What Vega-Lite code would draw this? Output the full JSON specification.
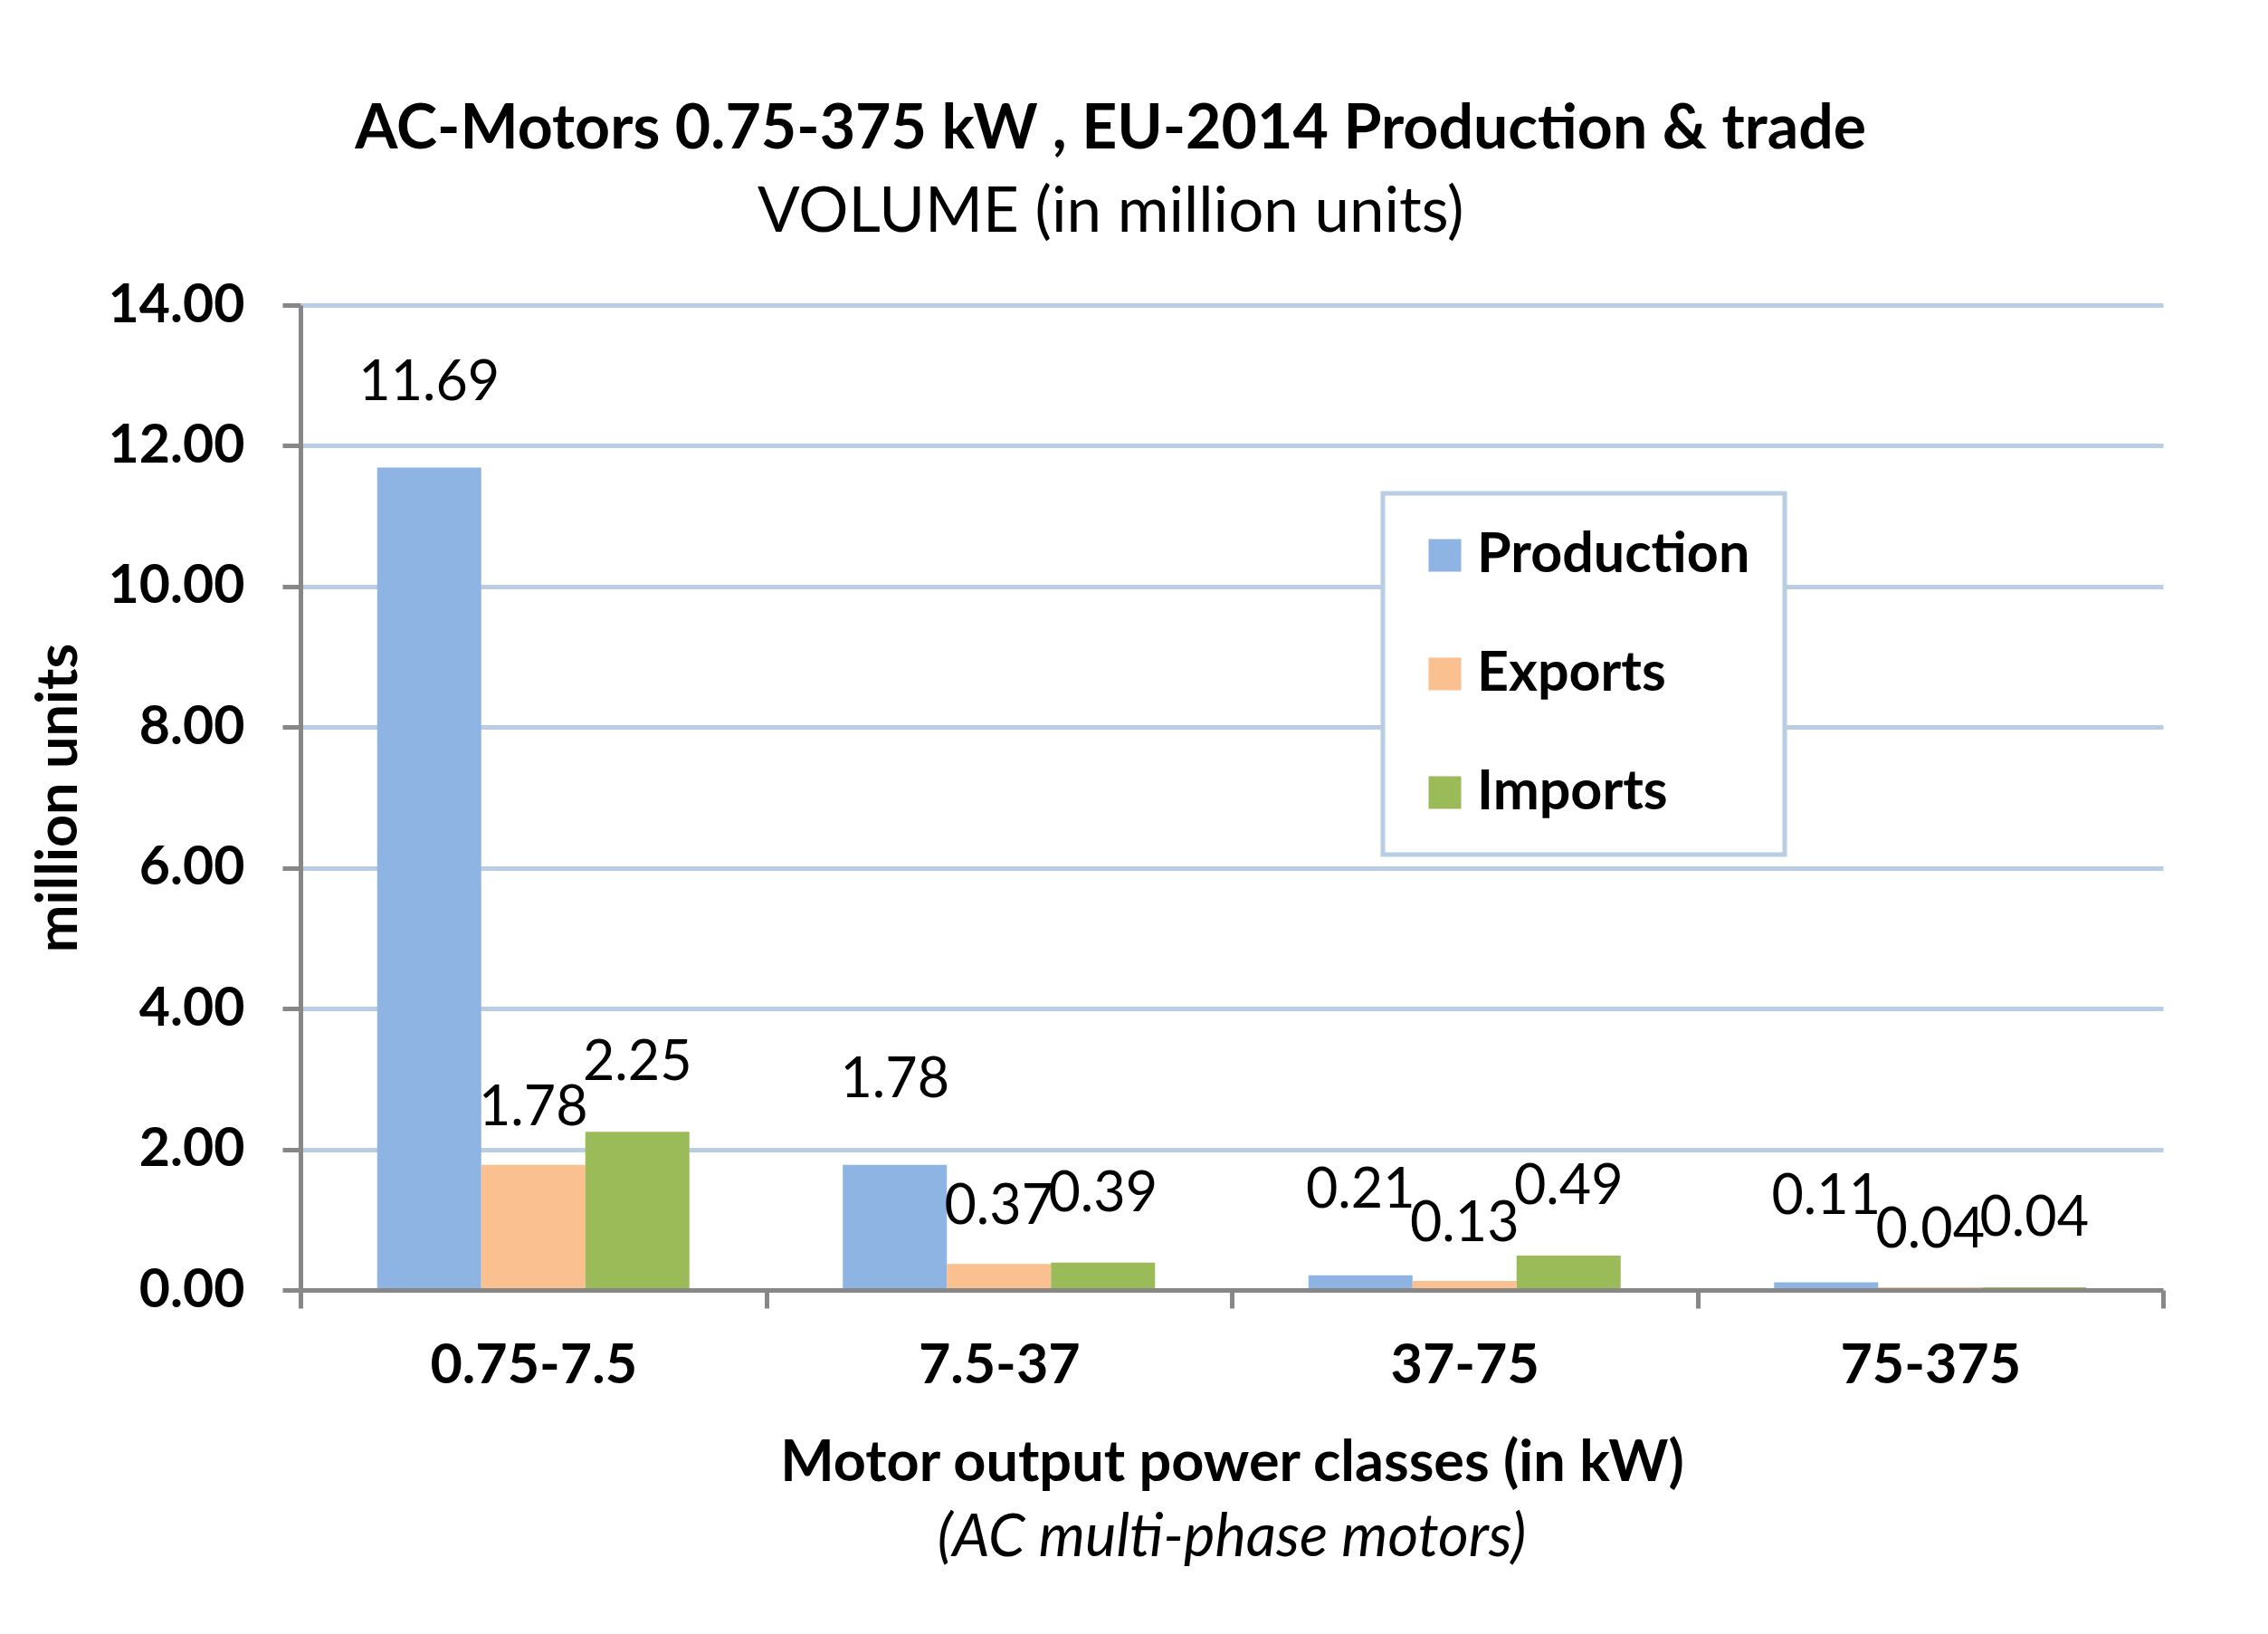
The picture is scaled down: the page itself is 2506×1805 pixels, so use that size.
{
  "$schema": "https://vega.github.io/schema/vega-lite/v6.json",
  "background": "white",
  "padding": {"left": 34, "top": 110, "right": 20, "bottom": 20},
  "title": {
    "text": "AC-Motors 0.75-375 kW , EU-2014 Production & trade",
    "subtitle": "VOLUME (in million units)",
    "anchor": "middle",
    "dx": 14,
    "font": "Lato",
    "fontSize": 68,
    "fontWeight": "bold",
    "color": "black",
    "subtitleFont": "Lato",
    "subtitleFontSize": 69,
    "subtitleFontWeight": "normal",
    "subtitleColor": "black",
    "subtitlePadding": 23,
    "offset": 38
  },
  "vconcat": [
    {
      "width": 2058,
      "height": 1088,
      "title": {
        "text": "(AC multi-phase motors)",
        "orient": "bottom",
        "anchor": "middle",
        "frame": "group",
        "font": "Lato",
        "fontStyle": "italic",
        "fontWeight": "normal",
        "fontSize": 65,
        "color": "black",
        "offset": 20
      },
      "data": {
        "values": [
          {"class": "0.75-7.5", "series": "Production", "value": 11.69},
          {"class": "0.75-7.5", "series": "Exports", "value": 1.78},
          {"class": "0.75-7.5", "series": "Imports", "value": 2.25},
          {"class": "7.5-37", "series": "Production", "value": 1.78},
          {"class": "7.5-37", "series": "Exports", "value": 0.37},
          {"class": "7.5-37", "series": "Imports", "value": 0.39},
          {"class": "37-75", "series": "Production", "value": 0.21},
          {"class": "37-75", "series": "Exports", "value": 0.13},
          {"class": "37-75", "series": "Imports", "value": 0.49},
          {"class": "75-375", "series": "Production", "value": 0.11},
          {"class": "75-375", "series": "Exports", "value": 0.04},
          {"class": "75-375", "series": "Imports", "value": 0.04}
        ]
      },
      "encoding": {
        "x": {
          "field": "class",
          "type": "nominal",
          "sort": ["0.75-7.5", "7.5-37", "37-75", "75-375"],
          "scale": {"paddingInner": 0, "paddingOuter": 0},
          "axis": {
            "title": "Motor output power classes (in kW)",
            "labelAngle": 0,
            "labelLimit": 0,
            "labelFont": "Lato",
            "labelFontSize": 61,
            "labelFontWeight": "bold",
            "labelColor": "black",
            "labelPadding": 34,
            "tickBand": "extent",
            "tickSize": 20,
            "tickWidth": 5,
            "tickColor": "#878787",
            "domainColor": "#878787",
            "domainWidth": 5,
            "titleFont": "Lato",
            "titleFontSize": 63,
            "titleFontWeight": "bold",
            "titleColor": "black",
            "titlePadding": 46,
            "grid": false,
            "zindex": 1
          }
        },
        "xOffset": {
          "field": "series",
          "type": "nominal",
          "sort": ["Production", "Exports", "Imports"],
          "scale": {"paddingInner": 0, "paddingOuter": 0.737}
        },
        "y": {
          "field": "value",
          "type": "quantitative",
          "scale": {"domain": [0, 14], "nice": false},
          "axis": {
            "title": "million units",
            "values": [0, 2, 4, 6, 8, 10, 12, 14],
            "format": ".2f",
            "labelFont": "Lato",
            "labelFontSize": 59,
            "labelFontWeight": "bold",
            "labelColor": "black",
            "labelPadding": 42,
            "tickSize": 20,
            "tickWidth": 5,
            "tickColor": "#878787",
            "domainColor": "#878787",
            "domainWidth": 5,
            "gridColor": "#b9cde5",
            "gridWidth": 5,
            "titleFont": "Lato",
            "titleFontSize": 63,
            "titleFontWeight": "bold",
            "titleColor": "black",
            "titlePadding": 35
          }
        }
      },
      "layer": [
        {
          "mark": {"type": "bar"},
          "encoding": {
            "color": {
              "field": "series",
              "type": "nominal",
              "sort": ["Production", "Exports", "Imports"],
              "scale": {
                "domain": ["Production", "Exports", "Imports"],
                "range": ["#8eb4e3", "#fac090", "#9bbb59"]
              },
              "legend": {
                "orient": "none",
                "legendX": 1196,
                "legendY": 208,
                "title": null,
                "symbolType": "square",
                "symbolSize": 1296,
                "symbolStrokeWidth": 0,
                "symbolOpacity": 1,
                "labelFont": "Lato",
                "labelFontSize": 61,
                "labelFontWeight": "bold",
                "labelColor": "black",
                "labelLimit": 0,
                "labelOffset": 5,
                "rowPadding": 69,
                "padding": 38,
                "strokeColor": "#b9cde5",
                "fillColor": "white",
                "encode": {"legend": {"update": {"strokeWidth": {"value": 5}}}}
              }
            }
          }
        },
        {
          "transform": [{"filter": "datum.series === 'Production'"}],
          "mark": {
            "type": "text",
            "baseline": "middle",
            "align": "center",
            "dy": -93,
            "font": "Lato",
            "fontSize": 61,
            "color": "black"
          },
          "encoding": {
            "text": {"field": "value", "type": "quantitative", "format": ".2f"}
          }
        },
        {
          "transform": [{"filter": "datum.series === 'Exports'"}],
          "mark": {
            "type": "text",
            "baseline": "middle",
            "align": "center",
            "dy": -62,
            "font": "Lato",
            "fontSize": 61,
            "color": "black"
          },
          "encoding": {
            "text": {"field": "value", "type": "quantitative", "format": ".2f"}
          }
        },
        {
          "transform": [{"filter": "datum.series === 'Imports'"}],
          "mark": {
            "type": "text",
            "baseline": "middle",
            "align": "center",
            "dy": -75,
            "font": "Lato",
            "fontSize": 61,
            "color": "black"
          },
          "encoding": {
            "text": {"field": "value", "type": "quantitative", "format": ".2f"}
          }
        }
      ]
    }
  ],
  "config": {"view": {"stroke": null}, "font": "Lato"}
}
